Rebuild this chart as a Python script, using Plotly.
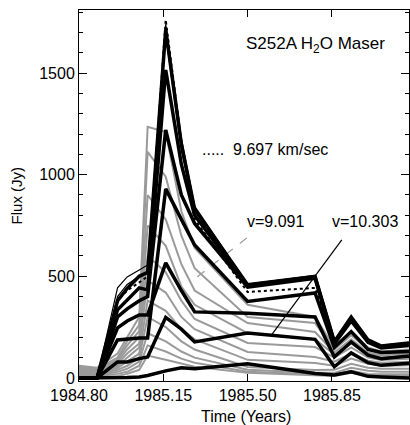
import plotly.graph_objects as go

# Observation epochs (years)
epochs = [1984.80, 1984.875, 1984.96, 1985.00, 1985.05, 1985.085, 1985.16, 1985.225,
          1985.28, 1985.50, 1985.78, 1985.86, 1985.93, 1986.00, 1986.055, 1986.17]

# Thick black velocity channels (Jy)
thick_1 = [0, 0, 380, 440, 500, 520, 1712, 1150, 830, 458, 500, 178, 300, 187, 157, 172]
thick_2 = [0, 0, 335, 384, 443, 433, 1515, 1050, 800, 452, 495, 174, 292, 182, 152, 166]
thick_3 = [0, 0, 300, 340, 380, 400, 1220, 900, 760, 447, 490, 168, 280, 175, 148, 160]
thick_4 = [0, 0, 187, 192, 197, 197, 930, 780, 654, 376, 418, 150, 228, 140, 125, 130]
thick_5 = [0, 0, 246, 280, 310, 310, 566, 430, 325, 318, 300, 103, 177, 112, 95, 108]
thick_6 = [0, 0, 79, 79, 95, 103, 298, 240, 177, 221, 190, 55, 123, 75, 62, 72]
thick_7 = [0, 0, 0, 2, 5, 12, 35, 50, 45, 70, 22, 15, 30, 8, 5, 0]

# Thin black channels
thin_1 = [0, 0, 443, 497, 531, 556, 1740, 1180, 845, 462, 505, 182, 305, 190, 160, 175]
thin_2 = [0, 0, 400, 460, 500, 520, 1690, 1120, 835, 455, 498, 176, 296, 183, 154, 168]

# Dotted channel: 9.697 km/sec
dotted_9697 = [0, 0, 380, 430, 470, 500, 1762, 1160, 780, 423, 443, 170, 285, 178, 148, 160]

# Gray channels
gray_1 = [60, 50, 120, 200, 300, 1235, 1210, 820, 640, 360, 300, 150, 230, 150, 130, 140]
gray_2 = [55, 45, 100, 180, 260, 1112, 990, 700, 540, 300, 270, 140, 210, 140, 120, 130]
gray_3 = [50, 40, 90, 160, 230, 900, 780, 560, 430, 270, 226, 125, 190, 125, 110, 120]
gray_4 = [45, 35, 80, 140, 200, 750, 650, 450, 360, 220, 190, 115, 170, 115, 100, 108]
gray_5 = [40, 30, 70, 120, 170, 600, 520, 380, 290, 172, 152, 100, 150, 100, 88, 95]
gray_6 = [35, 25, 60, 100, 150, 480, 420, 300, 240, 128, 103, 80, 120, 85, 75, 80]
gray_7 = [30, 20, 50, 80, 120, 380, 330, 240, 190, 89, 74, 60, 95, 70, 60, 62]
gray_8 = [25, 15, 40, 60, 100, 300, 250, 180, 140, 54, 39, 40, 70, 50, 45, 45]
gray_9 = [20, 10, 30, 45, 80, 220, 180, 130, 100, 40, 25, 25, 50, 35, 30, 30]
gray_10 = [15, 8, 20, 30, 60, 160, 130, 95, 75, 30, 18, 15, 35, 20, 18, 18]
gray_11 = [10, 5, 10, 20, 40, 110, 90, 70, 55, 25, 12, 10, 25, 12, 10, 10]

# Label pointer lines (time, flux)
pointer_9091_t = [1985.497, 1985.262]
pointer_9091_f = [689, 470]
pointer_10303_t = [1985.891, 1985.601]
pointer_10303_f = [679, 214]

x_tick_vals = [1984.80, 1985.15, 1985.50, 1985.85]
x_tick_text = ["1984.80", "1985.15", "1985.50", "1985.85"]
y_tick_vals = [0, 500, 1000, 1500]

FONT = "Liberation Sans"
fig = go.Figure()

grays = [gray_1, gray_2, gray_3, gray_4, gray_5, gray_6, gray_7, gray_8, gray_9, gray_10, gray_11]
for g in grays:
    fig.add_trace(go.Scatter(x=epochs, y=g, mode="lines",
                             line=dict(color="#9a9a9a", width=2), showlegend=False))

fig.add_trace(go.Scatter(x=pointer_9091_t, y=pointer_9091_f, mode="lines",
                         line=dict(color="#9a9a9a", width=1.2, dash="dash"), showlegend=False))

for s in [thick_1, thick_2, thick_3, thick_4, thick_5, thick_6, thick_7]:
    fig.add_trace(go.Scatter(x=epochs, y=s, mode="lines",
                             line=dict(color="black", width=3.5), showlegend=False))
for s in [thin_1, thin_2]:
    fig.add_trace(go.Scatter(x=epochs, y=s, mode="lines",
                             line=dict(color="black", width=1.2), showlegend=False))
fig.add_trace(go.Scatter(x=epochs, y=dotted_9697, mode="lines",
                         line=dict(color="black", width=2, dash="dot"), showlegend=False))
fig.add_trace(go.Scatter(x=pointer_10303_t, y=pointer_10303_f, mode="lines",
                         line=dict(color="black", width=1.2), showlegend=False))

def txt(x, y, s, size=16, angle=0):
    fig.add_annotation(x=x, y=y, xref="paper", yref="paper", text=s, showarrow=False,
                       xanchor="center", yanchor="middle", textangle=angle,
                       font=dict(family=FONT, size=size, color="black"))

txt(0.718, 0.906, "S252A H<sub>2</sub>O Maser", 17)
txt(0.564, 0.623, ".....  9.697 km/sec", 16)
txt(0.594, 0.429, "v=9.091", 16)
txt(0.867, 0.429, "v=10.303", 16)
txt(0.506, -0.097, "Time (Years)", 16)
txt(-0.188, 0.50, "Flux (Jy)", 15, -90)

fig.update_xaxes(range=[1984.80, 1986.17], tickvals=x_tick_vals, ticktext=x_tick_text,
                 ticks="inside", ticklen=7, tickcolor="black", showline=True, linecolor="black",
                 linewidth=1, mirror="ticks", showgrid=False, zeroline=False,
                 tickfont=dict(family=FONT, size=16, color="black"))
fig.update_yaxes(range=[-15, 1810], tickvals=y_tick_vals, ticks="inside", ticklen=8,
                 tickcolor="black", showline=True, linecolor="black", linewidth=1,
                 mirror="ticks", showgrid=False, zeroline=False,
                 minor=dict(dtick=100, ticks="inside", ticklen=4, tickcolor="black", showgrid=False),
                 tickfont=dict(family=FONT, size=16, color="black"))

fig.update_layout(width=410, height=425, margin=dict(l=79, r=1, t=10, b=44),
                  plot_bgcolor="white", paper_bgcolor="white")
fig.write_html("out.html", config={"displayModeBar": False},
               post_script="document.body.style.margin='0';document.body.style.overflow='hidden';")
